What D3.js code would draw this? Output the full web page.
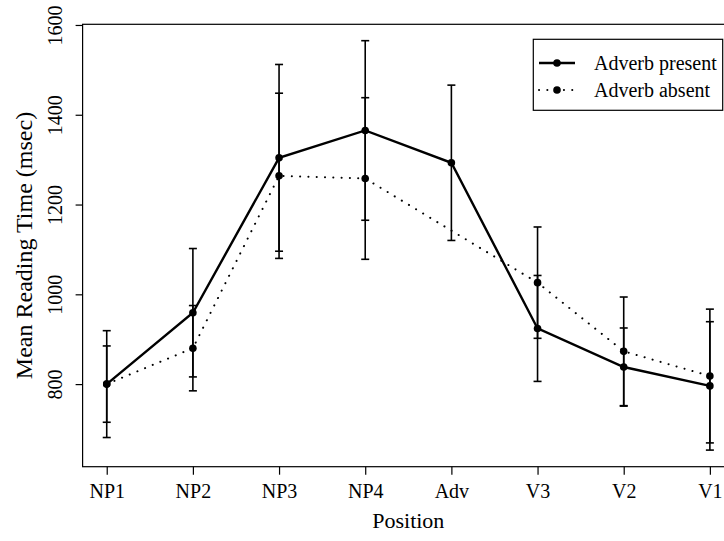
<!DOCTYPE html>
<html>
<head>
<meta charset="utf-8">
<script src="https://cdn.jsdelivr.net/npm/d3@7"></script>
<style>
  body { margin: 0; background: #fff; }
  text { font-family: "Liberation Serif", "DejaVu Serif", serif; fill: #000; }
</style>
</head>
<body>
<div id="canvas"></div>
<script>
const positions = ["NP1", "NP2", "NP3", "NP4", "Adv", "V3", "V2", "V1"];
const present = [800, 959, 1304, 1365, 1293, 924, 838, 796];
const presentSE = [119, 143, 208, 200, 173, 118, 87, 143];
// no adverb in the absent condition, so nothing at "Adv"
const absent = [800, 880, 1264, 1258, null, 1026, 873, 818];
const absentSE = [85, 95, 184, 180, null, 124, 121, 149];
const yTicks = [800, 1000, 1200, 1400, 1600];

const width = 724;
const height = 541;
const box = { left: 82.6, right: 734, top: 24.3, bottom: 466.7 };

const svg = d3.select("#canvas").append("svg")
  .attr("width", width)
  .attr("height", height);

// R style: 4% padding around the data range
const x = d3.scaleLinear()
  .domain([1 - 0.28, 8 + 0.28])
  .range([box.left, box.right]);
const y = d3.scaleLinear()
  .domain([616, 1601.5])
  .range([box.bottom, box.top]);

const rows = positions.map((p, i) => ({
  i: i + 1, name: p,
  present: present[i], presentSE: presentSE[i],
  absent: absent[i], absentSE: absentSE[i]
}));

// frame
svg.append("rect")
  .attr("x", box.left).attr("y", box.top)
  .attr("width", box.right - box.left).attr("height", box.bottom - box.top)
  .attr("fill", "none").attr("stroke", "#000").attr("stroke-width", 1.2);

// x axis
const xAxis = svg.append("g")
  .attr("transform", `translate(0,${box.bottom})`)
  .call(d3.axisBottom(x).tickValues(rows.map(d => d.i))
    .tickFormat(d => positions[d - 1]).tickSize(8).tickPadding(9));
xAxis.select(".domain").remove();
xAxis.selectAll("line").attr("stroke", "#000").attr("stroke-width", 1.2);
xAxis.selectAll("text").attr("font-size", 20).attr("font-family", "Liberation Serif").attr("fill", "#000");

// y axis
const yAxis = svg.append("g")
  .attr("transform", `translate(${box.left},0)`)
  .call(d3.axisLeft(y).tickValues(yTicks).tickSize(7).tickFormat(d3.format("d")));
yAxis.select(".domain").remove();
yAxis.selectAll("line").attr("stroke", "#000").attr("stroke-width", 1.2);
yAxis.selectAll("text")
  .attr("font-size", 20).attr("font-family", "Liberation Serif").attr("fill", "#000")
  .attr("text-anchor", "middle")
  .attr("x", null).attr("dy", null)
  .attr("transform", "translate(-21,0) rotate(-90)");

svg.append("text")
  .attr("x", (box.left + box.right) / 2)
  .attr("y", 528)
  .attr("text-anchor", "middle")
  .attr("font-size", 22)
  .text("Position");

svg.append("text")
  .attr("transform", `translate(32,${(box.top + box.bottom) / 2}) rotate(-90)`)
  .attr("text-anchor", "middle")
  .attr("font-size", 24)
  .text("Mean Reading Time (msec)");

// error bars
function errorBars(key, seKey) {
  const g = svg.append("g");
  const d = rows.filter(r => r[key] != null);
  g.selectAll("line.bar").data(d).enter().append("line")
    .attr("x1", r => x(r.i)).attr("x2", r => x(r.i))
    .attr("y1", r => y(r[key] - r[seKey])).attr("y2", r => y(r[key] + r[seKey]))
    .attr("stroke", "#000").attr("stroke-width", 1.6);
  [-1, 1].forEach(s => {
    g.selectAll("line.cap" + s).data(d).enter().append("line")
      .attr("x1", r => x(r.i) - 4).attr("x2", r => x(r.i) + 4)
      .attr("y1", r => y(r[key] + s * r[seKey])).attr("y2", r => y(r[key] + s * r[seKey]))
      .attr("stroke", "#000").attr("stroke-width", 1.6);
  });
}
errorBars("present", "presentSE");
errorBars("absent", "absentSE");

const line = key => d3.line().x(r => x(r.i)).y(r => y(r[key]));

svg.append("path")
  .datum(rows.filter(r => r.absent != null))
  .attr("d", line("absent"))
  .attr("fill", "none").attr("stroke", "#000")
  .attr("stroke-width", 2).attr("stroke-linecap", "round")
  .attr("stroke-dasharray", "0.1,8.2");

svg.append("path")
  .datum(rows)
  .attr("d", line("present"))
  .attr("fill", "none").attr("stroke", "#000").attr("stroke-width", 2.4);

["present", "absent"].forEach(key => {
  svg.append("g").selectAll("circle")
    .data(rows.filter(r => r[key] != null))
    .enter().append("circle")
    .attr("cx", r => x(r.i)).attr("cy", r => y(r[key]))
    .attr("r", 3.8).attr("fill", "#000");
});

// legend
const lg = svg.append("g");
lg.append("rect")
  .attr("x", 533.3).attr("y", 39.3).attr("width", 189.4).attr("height", 71)
  .attr("fill", "#fff").attr("stroke", "#000").attr("stroke-width", 1.2);
const legendItems = [
  { label: "Adverb present", dash: null, w: 2.4 },
  { label: "Adverb absent", dash: "0.1,8.2", w: 2 }
];
legendItems.forEach((it, k) => {
  const cy = 63 + k * 27;
  lg.append("line")
    .attr("x1", 539).attr("x2", 575).attr("y1", cy).attr("y2", cy)
    .attr("stroke", "#000").attr("stroke-width", it.w)
    .attr("stroke-linecap", it.dash ? "round" : "butt")
    .attr("stroke-dasharray", it.dash);
  lg.append("circle").attr("cx", 557).attr("cy", cy).attr("r", 3.8).attr("fill", "#000");
  lg.append("text")
    .attr("x", 594).attr("y", cy).attr("dy", "0.33em")
    .attr("font-size", 20)
    .text(it.label);
});
</script>
</body>
</html>
